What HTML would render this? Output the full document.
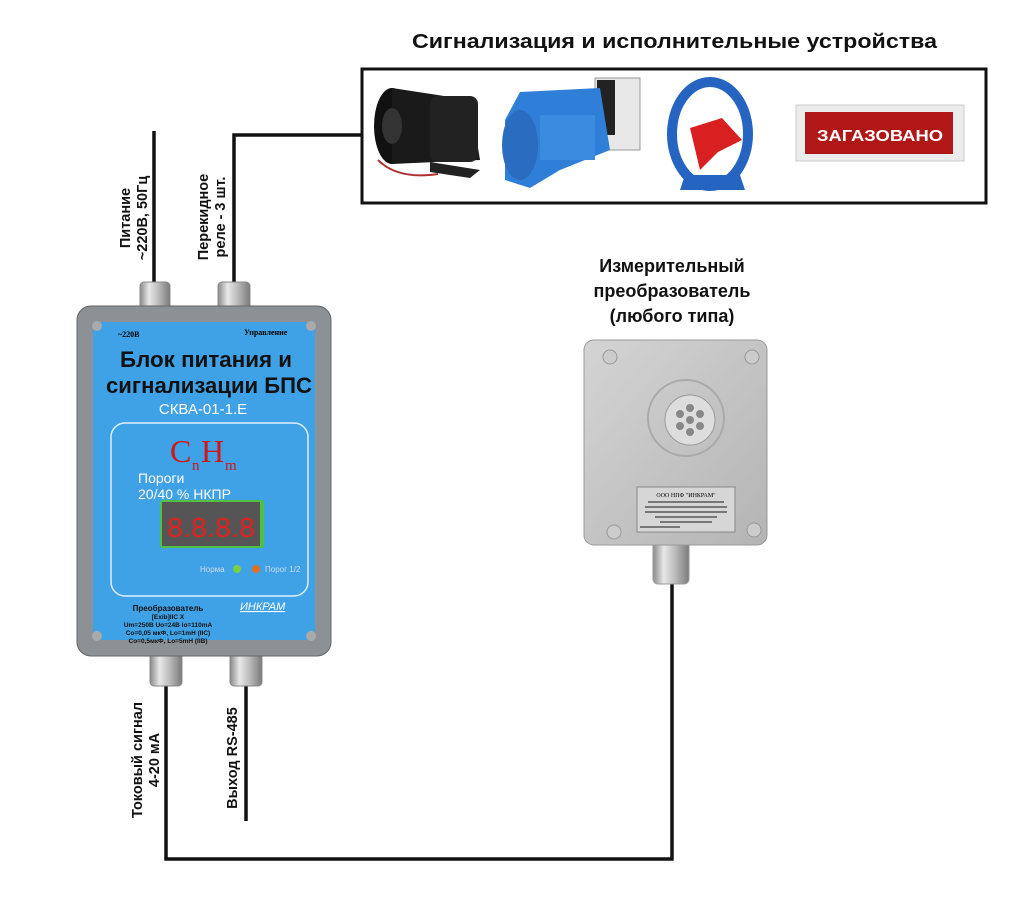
<!DOCTYPE html>
<html><head><meta charset="utf-8"><style>
body{margin:0;background:#fff;width:1024px;height:912px;overflow:hidden}
svg{display:block}
text{font-family:"Liberation Sans",sans-serif}
</style></head><body>
<svg width="1024" height="912" viewBox="0 0 1024 912" xmlns="http://www.w3.org/2000/svg">
<defs>
<linearGradient id="gl" x1="0" x2="1" y1="0" y2="0">
<stop offset="0" stop-color="#8a8a8a"/><stop offset="0.3" stop-color="#e8e8e8"/><stop offset="0.6" stop-color="#bdbdbd"/><stop offset="1" stop-color="#7a7a7a"/></linearGradient>
<linearGradient id="sb" x1="0" x2="1" y1="0" y2="1">
<stop offset="0" stop-color="#d4d4d4"/><stop offset="1" stop-color="#b4b4b4"/></linearGradient>
</defs>
<!-- title -->
<text x="412" y="48" font-size="20" font-weight="bold" fill="#111" textLength="525" lengthAdjust="spacingAndGlyphs">Сигнализация и исполнительные устройства</text>
<rect x="362" y="69" width="624" height="134" fill="#fff" stroke="#111" stroke-width="3"/>
<!-- siren -->
<ellipse cx="392" cy="126" rx="18" ry="38" fill="#111"/>
<path d="M392 88 L470 100 L480 160 L392 164 Z" fill="#1a1a1a"/>
<rect x="430" y="96" width="48" height="66" rx="8" fill="#222"/>
<ellipse cx="392" cy="126" rx="10" ry="18" fill="#333"/>
<path d="M430 162 L480 170 L470 178 L430 172Z" fill="#222"/>
<path d="M378 160 q20 20 60 14" stroke="#b03030" stroke-width="2" fill="none"/>
<!-- compressor -->
<rect x="595" y="78" width="45" height="72" fill="#e8e8e8" stroke="#999"/>
<rect x="597" y="80" width="18" height="55" fill="#222"/>
<path d="M505 120 L520 92 L600 88 L610 150 L560 170 L530 188 L505 180 Z" fill="#2f7fd8"/>
<ellipse cx="520" cy="145" rx="18" ry="35" fill="#2a6cc0"/>
<rect x="540" y="115" width="55" height="45" fill="#3b8be0"/>
<!-- fan -->
<ellipse cx="710" cy="134" rx="38" ry="52" fill="none" stroke="#2564c0" stroke-width="10"/>
<path d="M690 128 L722 118 L742 140 L718 152 L700 170 Z" fill="#d82020"/>
<path d="M685 175 L740 175 L745 190 L680 190Z" fill="#2564c0"/>
<!-- sign -->
<rect x="796" y="105" width="168" height="56" fill="#ececec" stroke="#ccc"/>
<rect x="805" y="112" width="148" height="42" fill="#b01818"/>
<text x="817" y="141" font-size="16" font-weight="bold" fill="#fff" textLength="126" lengthAdjust="spacingAndGlyphs">ЗАГАЗОВАНО</text>

<!-- wires -->
<g stroke="#111" stroke-width="3.5" fill="none">
<line x1="154" y1="131" x2="154" y2="282"/>
<polyline points="234,283 234,135 362,135"/>
<polyline points="166,685 166,859 672,859 672,582"/>
<line x1="246" y1="685" x2="246" y2="821"/>
</g>
<!-- rotated labels -->
<g font-size="14.5" font-weight="bold" fill="#111" text-anchor="middle">
<text transform="translate(130,218) rotate(-90)">Питание</text>
<text transform="translate(147,218) rotate(-90)">~220В, 50Гц</text>
<text transform="translate(208,217) rotate(-90)">Перекидное</text>
<text transform="translate(225,217) rotate(-90)">реле - 3 шт.</text>
<text transform="translate(142,760) rotate(-90)">Токовый сигнал</text>
<text transform="translate(159,760) rotate(-90)">4-20 мА</text>
<text transform="translate(237,758) rotate(-90)">Выход RS-485</text>
</g>
<!-- glands -->
<g>
<rect x="140" y="282" width="30" height="30" rx="4" fill="url(#gl)" stroke="#888"/>
<rect x="218" y="282" width="32" height="30" rx="4" fill="url(#gl)" stroke="#888"/>
<rect x="150" y="650" width="32" height="36" rx="4" fill="url(#gl)" stroke="#888"/>
<rect x="230" y="650" width="32" height="36" rx="4" fill="url(#gl)" stroke="#888"/>
</g>
<!-- device -->
<rect x="77" y="306" width="254" height="350" rx="14" fill="#8c9196" stroke="#666"/>
<rect x="93" y="322" width="222" height="318" fill="#3fa1e6"/>
<circle cx="97" cy="326" r="5" fill="#aaa"/><circle cx="311" cy="326" r="5" fill="#aaa"/>
<circle cx="97" cy="636" r="5" fill="#aaa"/><circle cx="311" cy="636" r="5" fill="#aaa"/>
<text x="118" y="337" font-size="8" font-weight="bold" style="font-family:'Liberation Serif'">~220В</text>
<text x="244" y="335" font-size="8" font-weight="bold" style="font-family:'Liberation Serif'">Управление</text>
<text x="120" y="367" font-size="22" font-weight="bold" fill="#111" textLength="172" lengthAdjust="spacingAndGlyphs">Блок питания и</text>
<text x="106" y="393" font-size="22" font-weight="bold" fill="#111" textLength="206" lengthAdjust="spacingAndGlyphs">сигнализации БПС</text>
<text x="203" y="414" font-size="15" text-anchor="middle" fill="#fff">СКВА-01-1.Е</text>
<rect x="111" y="423" width="197" height="173" rx="14" fill="#3fa1e6" stroke="#dff0ff" stroke-width="1.5"/>
<text x="170" y="462" font-size="32" fill="#d01818" style="font-family:'Liberation Serif'">C</text>
<text x="192" y="470" font-size="15" fill="#d01818" style="font-family:'Liberation Serif'">n</text>
<text x="201" y="462" font-size="32" fill="#d01818" style="font-family:'Liberation Serif'">H</text>
<text x="225" y="470" font-size="15" fill="#d01818" style="font-family:'Liberation Serif'">m</text>
<text x="138" y="483" font-size="14" fill="#fff">Пороги</text>
<text x="138" y="499" font-size="14" fill="#fff">20/40 % НКПР</text>
<rect x="160" y="500" width="104" height="48" rx="3" fill="#52c040"/>
<rect x="162" y="502" width="98" height="44" fill="#555"/>
<text x="167" y="537" font-size="28" fill="#e02020" textLength="88" lengthAdjust="spacingAndGlyphs">8.8.8.8</text>
<text x="200" y="572" font-size="8" fill="#cde">Норма</text>
<circle cx="237" cy="569" r="4" fill="#7ad040"/>
<circle cx="256" cy="569" r="4" fill="#e07020"/>
<text x="265" y="572" font-size="8" fill="#cde">Порог 1/2</text>
<text x="240" y="610" font-size="11" font-style="italic" fill="#fff" text-decoration="underline">ИНКРАМ</text>
<g font-size="6.5" font-weight="bold" text-anchor="middle" style="font-family:'Liberation Serif'" fill="#111">
<text x="168" y="611" font-size="8">Преобразователь</text>
<text x="168" y="619">[Exib]IIC X</text>
<text x="168" y="627">Um=250B Uo=24B Io=110mA</text>
<text x="168" y="635">Co=0,05 мкФ, Lo=1mH (IIC)</text>
<text x="168" y="643">Co=0,5мкФ, Lo=5mH (IIB)</text>
</g>

<!-- sensor label -->
<g font-size="18" font-weight="bold" text-anchor="middle" fill="#111">
<text x="672" y="272">Измерительный</text>
<text x="672" y="297">преобразователь</text>
<text x="672" y="322">(любого типа)</text>
</g>
<!-- sensor -->
<rect x="653" y="538" width="36" height="46" rx="5" fill="url(#gl)" stroke="#999"/>
<rect x="584" y="340" width="183" height="205" rx="10" fill="url(#sb)" stroke="#999"/>
<circle cx="610" cy="357" r="7" fill="#ccc" stroke="#999"/><circle cx="752" cy="357" r="7" fill="#ccc" stroke="#999"/>
<circle cx="614" cy="532" r="7" fill="#ccc" stroke="#999"/><circle cx="754" cy="530" r="7" fill="#ccc" stroke="#999"/>
<circle cx="686" cy="418" r="38" fill="none" stroke="#aaa" stroke-width="2"/>
<circle cx="690" cy="420" r="25" fill="#ddd" stroke="#999"/>
<g fill="#888"><circle cx="690" cy="420" r="4"/><circle cx="690" cy="408" r="4"/><circle cx="690" cy="432" r="4"/><circle cx="680" cy="414" r="4"/><circle cx="700" cy="414" r="4"/><circle cx="680" cy="426" r="4"/><circle cx="700" cy="426" r="4"/></g>
<rect x="637" y="487" width="98" height="45" fill="#d6d6d6" stroke="#888"/>
<text x="686" y="497" font-size="6" text-anchor="middle" style="font-family:'Liberation Serif'">ООО НПФ "ИНКРАМ"</text>
<g fill="#777"><rect x="648" y="501" width="76" height="2"/><rect x="645" y="506" width="82" height="2"/><rect x="645" y="511" width="82" height="2"/><rect x="655" y="516" width="62" height="2"/><rect x="660" y="521" width="52" height="2"/><rect x="640" y="526" width="40" height="2"/></g>
</svg>
</body></html>
